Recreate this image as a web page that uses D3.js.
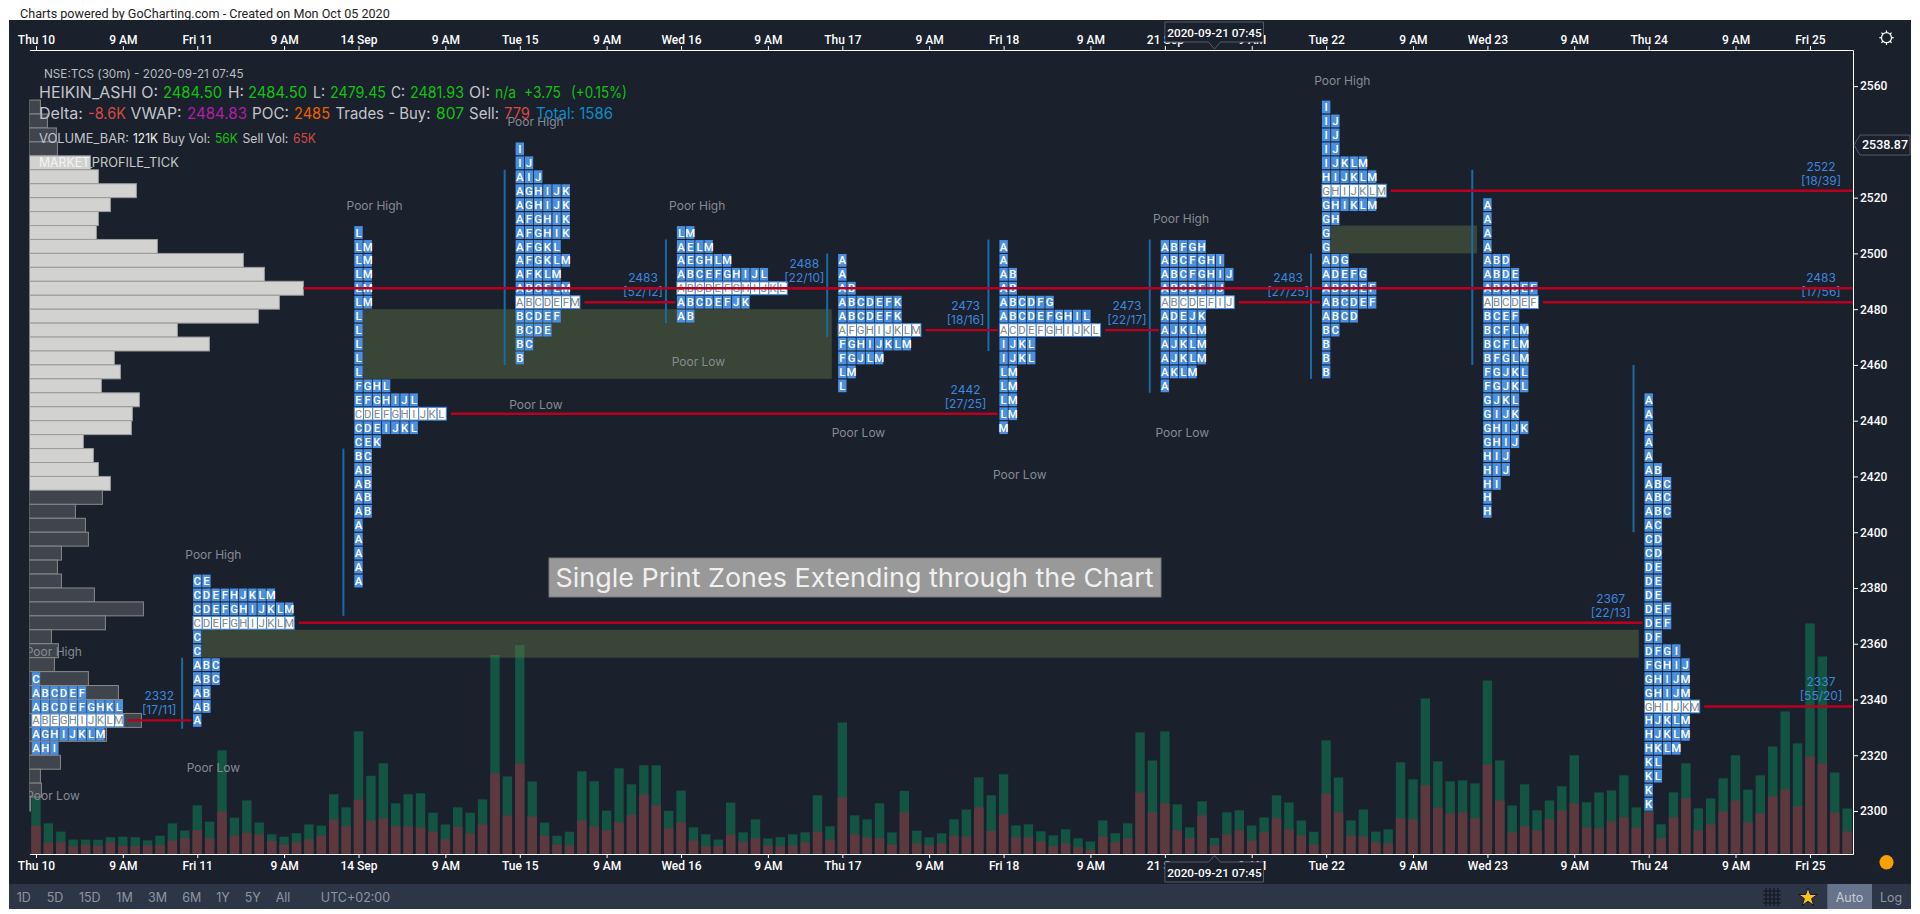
<!DOCTYPE html>
<html>
<head>
<meta charset="utf-8">
<script src="https://cdn.jsdelivr.net/npm/d3@7/dist/d3.min.js"></script>
<style>
html,body{margin:0;padding:0;background:#fff;overflow:hidden}
svg{display:block}
text{font-family:Inter,"Open Sans",sans-serif}
.axis text{font-family:Roboto,sans-serif;fill:#fff;font-weight:500}
.axis path,.axis line{stroke:#fff}
</style>
</head>
<body>
<svg id="c" width="1920" height="914"></svg>
<script>
// ---- X axis (30-minute bar index) ----
const xTickIdx = [0,7,13,20,26,33,39,46,52,59,65,72,78,85,91,98,104,111,117,124,130,137,143];
const xTickLabels = ["Thu 10","9 AM","Fri 11","9 AM","14 Sep","9 AM","Tue 15","9 AM","Wed 16","9 AM","Thu 17","9 AM","Fri 18","9 AM","21 Sep","9 AM","Tue 22","9 AM","Wed 23","9 AM","Thu 24","9 AM","Fri 25"];
const yTicks = [2300,2320,2340,2360,2380,2400,2420,2440,2460,2480,2500,2520,2560];

// ---- Volume per bar (K) ----
const buyVol = [212,145,80,50,38,45,38,68,68,38,72,130,58,185,125,460,135,242,88,48,60,68,112,75,188,142,510,335,412,172,240,255,142,112,145,155,188,888,292,888,262,98,65,102,368,338,148,405,228,218,300,132,238,98,90,50,238,75,142,52,68,82,75,270,100,562,142,135,262,90,162,95,60,75,122,202,225,265,300,90,98,75,82,105,68,62,120,68,112,450,390,540,195,82,105,56,165,150,112,112,172,202,112,95,398,262,112,202,80,105,420,300,652,345,240,240,262,630,300,202,315,150,142,180,360,188,270,232,315,150,58,105,188,262,165,195,248,338,245,285,375,585,472,998,802,300,172];
const sellVol = [212,85,88,58,70,62,88,62,58,65,65,100,118,180,118,318,138,160,148,100,70,88,110,138,260,208,410,252,268,208,208,200,168,110,205,155,222,605,290,680,282,138,72,65,252,208,178,238,295,448,365,192,238,102,58,58,148,88,118,65,58,65,88,170,108,425,148,125,118,72,312,80,65,80,138,132,350,175,298,125,125,95,58,80,50,32,132,88,118,462,312,380,178,118,290,65,148,178,102,162,268,185,140,72,455,312,140,132,88,80,268,260,515,350,305,312,268,672,402,162,208,178,260,328,380,200,192,245,275,200,318,118,275,418,178,222,320,402,238,305,432,485,358,732,680,312,170];

// ---- Composite market profile on the left ----
const profileTop = 2552.5;
const profileVol = [11,18,27,28,61,69,107,81,69,67,128,214,235,274,250,229,148,180,85,91,72,110,103,102,54,64,69,81,73,46,56,59,32,28,32,65,114,76,22,29,25,59,89,93,112,77,28,31,11,12,1];
const valueAreaHigh = 2532.5, valueAreaLow = 2417.5, profilePoc = 2487.5;

// ---- TPO letter rows, top row first ----
const tpoThu10 = ["C","ABCDEF","ABCDEFGHKL","ABEGHIJKLM","AGHIJKLM","AHI"];
const tpoFri11 = ["CE","CDEFHJKLM","CDEFGHIJKLM","CDEFGHIJKLM","C","C","ABC","ABC","AB","AB","A"];
const tpoMon14 = ["L","LM","LM","LM","LM","LM","L","L","L","L","L","FGHL","EFGHIJL","CDEFGHIJKL","CDEIJKL","CEK","BC","AB","AB","AB","AB","A","A","A","A","A"];
const tpoTue15 = ["I","IJ","AIJ","AGHIJK","AGHIJK","AFGHIK","AFGHIK","AFGKL","AFGKLM","AFKLM","ABCFLM","ABCDEFM","BCDEF","BCDE","BC","B"];
const tpoWed16 = ["LM","AELM","AEGHLM","ABCEFGHIJL","ABCDEFGHIJKL","ABCDEFJK","AB"];
const tpoThu17 = ["A","A","AB","ABCDEFK","ABCDEFK","AFGHIJKLM","FGHIJKLM","FGJLM","LM","L"];
const tpoFri18 = ["A","A","AB","AB","ABCDFG","ABCDEFGHIL","ACDEFGHIJKL","IJKL","IJKL","LM","LM","LM","LM","M"];
const tpoMon21 = ["ABFGH","ABCFGHI","ABCFGHIJ","ABCDFIJ","ABCDEFIJ","ADEJK","AJKLM","AJKLM","AJKLM","AKLM","A"];
const tpoTue22 = ["I","IJ","IJ","IJ","IJKLM","HIJKLM","GHIJKLM","GHIKLM","GH","G","G","ADG","ADEFG","ABCDEF","ABCDEF","ABCD","BC","B","B","B"];
const tpoWed23 = ["A","A","A","A","ABD","ABDE","ABCDEF","ABCDEF","BCEF","BCFLM","BCFLM","BFGLM","FGJKL","FGJKL","GJKL","GIJK","GHIJK","GHIJ","HIJ","HIJ","HI","H","H"];
const tpoThu24 = ["A","A","A","A","A","AB","ABC","ABC","ABC","AC","CD","CD","DE","DE","DE","DEF","DEF","DF","DFGI","FGHIJ","GHIJM","GHIJM","GHIJKM","HJKLM","HJKLM","HKLM","KL","KL","K","K"];
const tpoRows = [tpoThu10,tpoFri11,tpoMon14,tpoTue15,tpoWed16,tpoThu17,tpoFri18,tpoMon21,tpoTue22,tpoWed23,tpoThu24];
const tpoDayIdx = [0,13,26,39,52,65,78,91,104,117,130];
const tpoTopPrice = [2347.5,2382.5,2507.5,2537.5,2507.5,2497.5,2502.5,2502.5,2552.5,2517.5,2447.5];
const tpoPocPrice = [2332.5,2367.5,2442.5,2482.5,2487.5,2472.5,2472.5,2482.5,2522.5,2482.5,2337.5];
const pocLabel = ["2332","2367","2442","2483","2488","2473","2473","2483","2522","2483","2337"];
const pocSplit = ["[17/11]","[22/13]","[27/25]","[52/12]","[22/10]","[18/16]","[22/17]","[27/25]","[18/39]","[17/56]","[55/20]"];
const pocEndIdx = [13,130,78,52,65,78,91,104,null,null,null];

// ---- Single print zones ----
const zoneHigh = [2480,2365,2510];
const zoneLow = [2455,2355,2500];
const zoneFrom = [26.35,13.38,104.4];
const zoneTo = [64.15,129.2,116.16];

// ---- Blue vertical bars ----
const ibBar = [11.78,24.78,37.78,50.78,63.78,76.78,89.78,102.78,115.78,128.78];
const ibHigh = [2355,2430,2530,2505,2500,2505,2505,2500,2530,2460];
const ibLow = [2329.5,2370,2460,2475,2470,2465,2450,2455,2460,2400];

// ---- Poor high / low notes ----
const noteText = ["Poor High","Poor High","Poor Low","Poor High","Poor High","Poor Low","Poor Low","Poor High","Poor High","Poor Low","Poor Low","Poor Low","Poor Low","Poor High"];
const noteBar = [40.27,27.3,40.3,14.3,1.44,14.3,1.37,53.3,92.3,53.4,66.3,79.3,92.4,105.3];
const notePrice = [2547,2517,2445.6,2392,2357,2315.4,2305.3,2517,2512.2,2461,2435.6,2420.5,2435.6,2562];

const svg = d3.select("#c");
const x = d3.scaleLinear([-0.53,146.47],[29.4,1853]);
const y = d3.scaleLinear([2284.58,2572.96],[854,50]);
const vol = d3.scaleLinear([0,1000],[854,854-133.3]);
const prof = d3.scaleLinear([0,300],[29.4,329.4]);
const colW = 9.2, rowH = 5;

const defs = svg.append("defs");
defs.append("clipPath").attr("id","plot").append("rect").attr("x",29.4).attr("y",50).attr("width",1823.6).attr("height",804);

// frame
svg.append("rect").attr("x",9).attr("y",20).attr("width",1902).attr("height",889).attr("fill","#1a202c");
svg.append("rect").attr("x",9).attr("y",884).attr("width",1902).attr("height",25).attr("fill","#2d3647");
svg.append("text").attr("x",20).attr("y",18).attr("font-size",12.6).attr("fill","#222").style("font-family","Roboto")
  .text("Charts powered by GoCharting.com - Created on Mon Oct 05 2020");

const plot = svg.append("g").attr("clip-path","url(#plot)");

// volume bars
const barW = 9.4;
plot.selectAll(".b").data(buyVol).join("rect")
  .attr("x",(d,i)=>x(i)-barW/2).attr("width",barW)
  .attr("y",(d,i)=>vol(d+sellVol[i])).attr("height",(d,i)=>854-vol(d+sellVol[i]))
  .attr("fill","#135443");
plot.selectAll(".s").data(sellVol).join("rect")
  .attr("x",(d,i)=>x(i)-barW/2).attr("width",barW)
  .attr("y",d=>vol(d)).attr("height",d=>854-vol(d))
  .attr("fill","#5d383f");

// zones
plot.selectAll(".z").data(zoneHigh).join("rect")
  .attr("x",(d,i)=>x(zoneFrom[i])).attr("width",(d,i)=>x(zoneTo[i])-x(zoneFrom[i]))
  .attr("y",d=>y(d)).attr("height",(d,i)=>y(zoneLow[i])-y(d))
  .attr("fill","rgba(100,122,70,0.42)");

// composite profile
const rowPx = y(0)-y(rowH);
plot.selectAll(".p").data(profileVol).join("rect")
  .attr("x",prof(0)).attr("width",d=>prof(d)-prof(0))
  .attr("y",(d,i)=>y(profileTop-i*rowH)-rowPx/2).attr("height",rowPx)
  .attr("fill",(d,i)=>{const p=profileTop-i*rowH;return p<=valueAreaHigh&&p>=valueAreaLow?"#d2d2d0":"#3f444d";})
  .attr("stroke",(d,i)=>{const p=profileTop-i*rowH;return p<=valueAreaHigh&&p>=valueAreaLow?"#9b9b9b":"#8a8a8a";})
  .attr("stroke-width",1);

// blue vertical bars
plot.selectAll(".ib").data(ibBar).join("line")
  .attr("x1",d=>x(d)).attr("x2",d=>x(d))
  .attr("y1",(d,i)=>y(ibHigh[i])).attr("y2",(d,i)=>y(ibLow[i]))
  .attr("stroke","#1b6aa5").attr("stroke-width",2);

// TPO cells
tpoRows.forEach((rows,k)=>{
  const g = plot.append("g");
  const cx = x(tpoDayIdx[k]);
  rows.forEach((letters,r)=>{
    const price = tpoTopPrice[k]-r*rowH;
    const isPoc = price===tpoPocPrice[k];
    const cy = y(price);
    Array.from(letters).forEach((ch,c)=>{
      const px = cx+c*colW;
      g.append("rect").attr("x",px-4.2).attr("y",cy-6.4).attr("width",isPoc?9.2:8.4).attr("height",12.8)
        .attr("fill",isPoc?"#fff":"#4a8fe0").attr("stroke",isPoc?"#3f87dc":"none").attr("stroke-width",isPoc?1:0);
      g.append("text").attr("x",px).attr("y",cy+4.1).attr("text-anchor","middle")
        .attr("font-size",11.4).attr("font-weight",isPoc?400:500).style("font-family","Roboto")
        .attr("fill",isPoc?"#888":"#fff").text(ch);
    });
  });
});

// naked POC lines
const red = "#b9001e";
tpoRows.forEach((rows,k)=>{
  const price = tpoPocPrice[k];
  const r = Math.round((tpoTopPrice[k]-price)/rowH);
  const startX = x(tpoDayIdx[k])+(rows[r].length-0.5)*colW+5;
  const endX = pocEndIdx[k]===null ? x.range()[1] : x(pocEndIdx[k])-6;
  const yy = y(price);
  plot.append("line").attr("x1",startX).attr("x2",endX).attr("y1",yy).attr("y2",yy).attr("stroke",red).attr("stroke-width",2.4);
  const lab = plot.append("g").attr("fill","#3f87dc").attr("font-size",12).attr("text-anchor","middle");
  lab.append("text").attr("x",endX-32).attr("y",yy-20).text(pocLabel[k]);
  lab.append("text").attr("x",endX-32).attr("y",yy-6).text(pocSplit[k]);
});
plot.append("line").attr("x1",prof(274)).attr("x2",x.range()[1]).attr("y1",y(profilePoc)).attr("y2",y(profilePoc)).attr("stroke",red).attr("stroke-width",2.4);

// poor highs/lows
plot.selectAll(".n").data(noteText).join("text")
  .attr("x",(d,i)=>x(noteBar[i])).attr("y",(d,i)=>y(notePrice[i])+4)
  .attr("text-anchor","middle").attr("font-size",12).attr("fill","#868b94").text(d=>d);

// annotation
svg.append("rect").attr("x",549).attr("y",558).attr("width",612).attr("height",39).attr("fill","#999").attr("stroke","#777");
svg.append("text").attr("x",555.5).attr("y",586.5).attr("font-size",26).attr("fill","#f0f0f0")
  .attr("textLength",598).attr("lengthAdjust","spacingAndGlyphs").text("Single Print Zones Extending through the Chart");

// header: [text, colour, left edge, width]
function line(yp,size,parts){
  parts.forEach(([s,c,xp,w])=>svg.append("text").attr("y",yp).attr("font-size",size).attr("x",xp).attr("fill",c)
    .attr("textLength",w).attr("lengthAdjust","spacingAndGlyphs").text(s));
}
const L="#c2c5ca",G="#12c212",R="#d64a45";
line(78,12,[["NSE:TCS (30m) - 2020-09-21 07:45","#b9bcc2",44,199.6]]);
line(98,15.6,[["HEIKIN_ASHI O:",L,39,119],["2484.50",G,163,59],["H:",L,228,16],["2484.50",G,248,59],["L:",L,313,12],["2479.45",G,330,56],["C:",L,391,14],["2481.93",G,410,54],["OI:",L,469,21],["n/a",G,495,21],["+3.75",G,524,37],["(+0.15%)",G,571,56]]);
line(119,15.6,[["Delta:",L,39,44],["-8.6K",R,88,38],["VWAP:",L,130.6,51],["2484.83","#b01fa8",187,60],["POC:",L,252,37],["2485","#f06000",294,36],["Trades - Buy:",L,335.5,95],["807",G,436,28],["Sell:",L,469,30],["779",R,504,26],["Total: 1586","#0c8cc8",536,77]]);
line(143,12.6,[["VOLUME_BAR:",L,39,90],["121K","#f2f2f2",133,25],["Buy Vol:",L,162.4,48],["56K",G,215,23],["Sell Vol:",L,242.4,46],["65K",R,293,23]]);
line(167,12.6,[["MARKET","#f4f4f4",39,51],["_","#c8c8c8",90,2],["PROFILE_TICK","#c8c8c8",91.8,87]]);

// axes
const fmt=(d,i)=>xTickLabels[i];
svg.append("g").attr("class","axis").attr("transform","translate(0,50)")
  .call(d3.axisTop(x).tickValues(xTickIdx).tickFormat(fmt).tickSize(4).tickSizeOuter(0).tickPadding(2))
  .selectAll("text").style("font-size","12px");
svg.append("g").attr("class","axis").attr("transform","translate(0,854)")
  .call(d3.axisBottom(x).tickValues(xTickIdx).tickFormat(fmt).tickSize(4).tickSizeOuter(0).tickPadding(3.5))
  .selectAll("text").style("font-size","12px");
svg.append("g").attr("class","axis").attr("transform","translate(1853,0)")
  .call(d3.axisRight(y).tickValues(yTicks).tickFormat(d3.format("d")).tickSize(5).tickSizeOuter(0).tickPadding(2))
  .selectAll("text").style("font-size","12px");

// crosshair tags
const cross = x(95), tagStroke="#565b66", bg="#1a202c";
function tag(path,tx,ty,label,size){
  svg.append("path").attr("d",path).attr("fill",bg).attr("stroke",tagStroke);
  svg.append("text").attr("x",tx).attr("y",ty).attr("text-anchor","middle").attr("font-size",size).attr("font-weight",500)
    .style("font-family","Roboto").attr("fill","#fff").text(label);
}
tag(`M${cross-49.6},22H${cross+49}V42H${cross+6}L${cross},49L${cross-6},42H${cross-49.6}Z`,cross,36.7,"2020-09-21 07:45",11.8);
tag(`M${cross-49.6},862H${cross-6}L${cross},855.5L${cross+6},862H${cross+49}V882H${cross-49.6}Z`,cross,876.7,"2020-09-21 07:45",11.8);
const py=y(2538.87);
tag(`M1860,${py-10}H1910V${py+10}H1860L1854,${py}Z`,1885,py+4.4,"2538.87",12.5);

// toolbar
const rangeLabels=["1D","5D","15D","1M","3M","6M","1Y","5Y","All","UTC+02:00"];
const rangeX=[23.7,55,89.8,124.5,157.6,191.8,223,252.7,283,355.5];
svg.selectAll(".r").data(rangeLabels).join("text").attr("x",(d,i)=>rangeX[i]).attr("y",902.2).attr("text-anchor","middle")
  .attr("font-size",12.5).attr("fill","#8d95a3").text(d=>d);
svg.append("rect").attr("x",1827.3).attr("y",884).attr("width",44.7).attr("height",25).attr("fill","#67738b");
svg.append("text").attr("x",1849.5).attr("y",902).attr("text-anchor","middle").attr("font-size",12.5).attr("fill","#c8ccd4").text("Auto");
svg.append("text").attr("x",1891).attr("y",902).attr("text-anchor","middle").attr("font-size",12.5).attr("fill","#8d95a3").text("Log");
const grid=svg.append("g").attr("stroke","#111722").attr("stroke-width",1.1);
[-6,-2,2,6].forEach(o=>{
  grid.append("line").attr("x1",1772+o).attr("x2",1772+o).attr("y1",888).attr("y2",906);
  grid.append("line").attr("x1",1763).attr("x2",1781).attr("y1",897+o).attr("y2",897+o);
});
svg.append("path").attr("d",d3.symbol(d3.symbolStar,110)()).attr("transform","translate(1808,897.5)").attr("fill","#f8c51c").attr("stroke","#111722");
svg.append("ellipse").attr("cx",1886.5).attr("cy",862.3).attr("rx",7).attr("ry",7.3).attr("fill","#f8a000");
const gear=svg.append("g").attr("transform","translate(1886.5,37.7)").attr("stroke","#fff").attr("fill","none");
gear.append("circle").attr("r",5).attr("stroke-width",1.2);
d3.range(8).forEach(k=>{const a=k*Math.PI/4;gear.append("line").attr("x1",5*Math.cos(a)).attr("y1",5*Math.sin(a)).attr("x2",7.2*Math.cos(a)).attr("y2",7.2*Math.sin(a)).attr("stroke-width",1.2);});
</script>
</body>
</html>
